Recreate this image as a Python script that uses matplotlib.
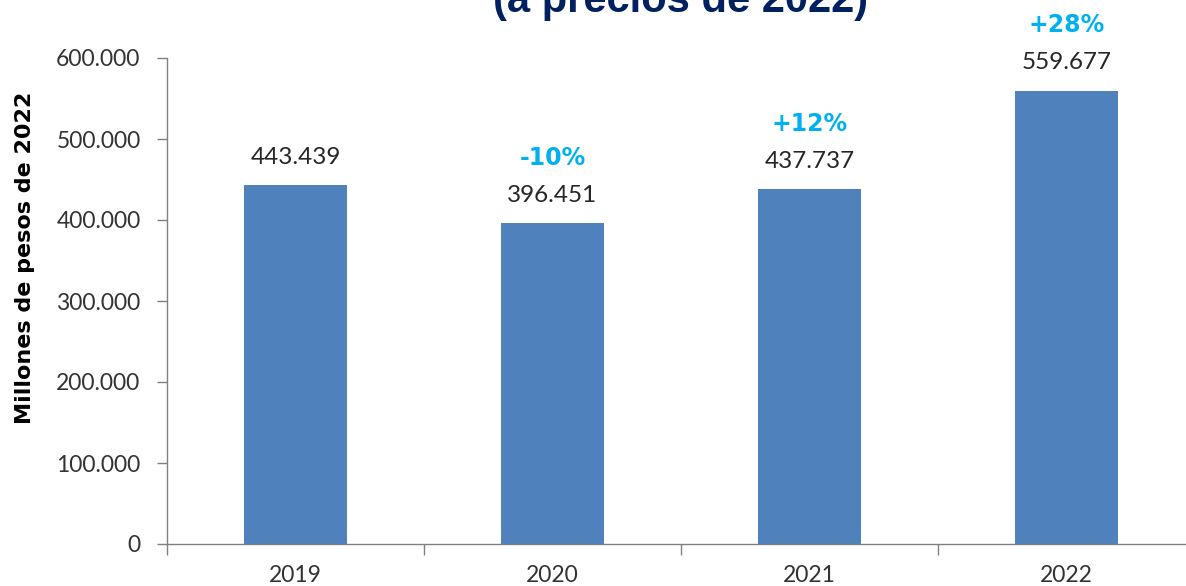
import matplotlib
matplotlib.use("Agg")
import matplotlib.pyplot as plt
from matplotlib.ticker import FuncFormatter

# datos del grafico
anios = ["2019", "2020", "2021", "2022"]
valores = [443439, 396451, 437737, 559677]
variaciones = [None, "-10%", "+12%", "+28%"]
y_ticks = [0, 100000, 200000, 300000, 400000, 500000, 600000]

COLOR_BARRA = "#4F81BD"
COLOR_VAR = "#00B0F0"
COLOR_TITULO = "#002060"
FUENTE = "Lato"

def miles(v, pos=None):
    return f"{int(v):,}".replace(",", ".")

fig = plt.figure(figsize=(11.86, 5.86), dpi=100)
ax = fig.add_axes([167 / 1186, 42 / 586, 1028 / 1186, 486 / 586])

x = list(range(len(anios)))
ax.bar(x, valores, width=0.4, color=COLOR_BARRA, zorder=2)

ax.set_xlim(-0.5, len(anios) - 0.5)
ax.set_ylim(0, 600000)
ax.set_yticks(y_ticks)
ax.yaxis.set_major_formatter(FuncFormatter(miles))

# etiquetas en el centro, marcas en los limites de categoria
ax.set_xticks(x)
ax.set_xticklabels(anios)
ax.set_xticks([i - 0.5 for i in range(len(anios) + 1)], minor=True)
ax.tick_params(axis="x", which="major", length=0, pad=15)
ax.tick_params(axis="x", which="minor", length=8, direction="out", color="#808080", width=1)
ax.tick_params(axis="y", length=7, direction="out", color="#808080", width=1, pad=12)

for lbl in ax.get_xticklabels() + ax.get_yticklabels():
    lbl.set_fontfamily(FUENTE)
    lbl.set_fontsize(16.5)
    lbl.set_color("#333333")

for s in ["top", "right"]:
    ax.spines[s].set_visible(False)
for s in ["left", "bottom"]:
    ax.spines[s].set_color("#808080")
    ax.spines[s].set_linewidth(1)

ax.set_ylabel("Millones de pesos de 2022", fontsize=16, fontweight="bold",
              family="DejaVu Sans", color="black")
ax.yaxis.set_label_coords(-0.128, 0.588)

# valores y variaciones sobre las barras
for i, v in enumerate(valores):
    ax.annotate(miles(v), (i, v), xytext=(0, 20), textcoords="offset points",
                ha="center", va="center", fontsize=17.5, family=FUENTE,
                color="#262626")
    if variaciones[i]:
        ax.annotate(variaciones[i], (i, v), xytext=(0, 47), textcoords="offset points",
                    ha="center", va="center", fontsize=17, fontweight="bold",
                    family="DejaVu Sans", color=COLOR_VAR)

# titulo (recortado en la parte superior, como en el original)
fig.text(681 / 1186, 1 - 12 / 586, "(a precios de 2022)", ha="center", va="baseline",
         fontsize=30, fontweight="bold", family="Liberation Sans", color=COLOR_TITULO)

fig.savefig("out.png", dpi=100)
